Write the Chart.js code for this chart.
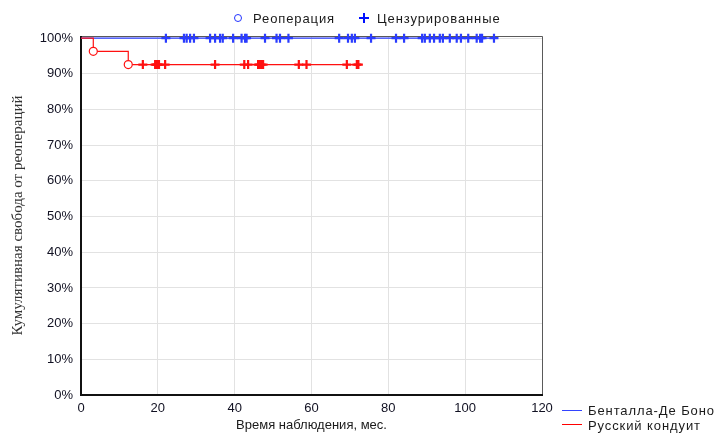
<!DOCTYPE html>
<html lang="ru">
<head>
<meta charset="utf-8">
<script src="https://cdn.jsdelivr.net/npm/chart.js@4/dist/chart.umd.min.js"></script>
<style>
  html, body { margin: 0; padding: 0; background: #fff; }
  #wrap { position: relative; width: 724px; height: 435px; }
  canvas { position: absolute; left: 0; top: 0; }
  .lg { position: absolute; font-family: "Liberation Sans", Arial, sans-serif; font-size: 13px;
        color: #1a1a1a; letter-spacing: 0.9px; white-space: nowrap; line-height: 15px; }
  .mk-circle { position: absolute; width: 6px; height: 6px; border: 1.3px solid #2233ff; border-radius: 50%; }
  .mk-plus { position: absolute; width: 10px; height: 10px; }
  .mk-plus::before, .mk-plus::after { content: ""; position: absolute; background: #0010ff; }
  .mk-plus::before { left: 4px; top: 0; width: 2px; height: 10px; }
  .mk-plus::after { left: 0; top: 4px; width: 10px; height: 2px; }
  .sw { position: absolute; width: 20px; height: 1px; }
</style>
</head>
<body>
<div id="wrap">
  <canvas id="km" width="724" height="435"></canvas>
  <!-- marker legend -->
  <span class="mk-circle" style="left:234px; top:14px;"></span>
  <span class="lg" style="left:253px; top:11px;">Реоперация</span>
  <span class="mk-plus" style="left:359px; top:13px;"></span>
  <span class="lg" style="left:377px; top:11px;">Цензурированные</span>
  <!-- group legend -->
  <span class="sw" style="left:562px; top:410px; background-color:#3344ff;"></span>
  <span class="lg" style="left:588px; top:403px;">Бенталла-Де Боно</span>
  <span class="sw" style="left:562px; top:424px; background-color:#ff0000;"></span>
  <span class="lg" style="left:588px; top:418px;">Русский кондуит</span>
</div>
<script>
// Axis ticks
const xTicks = [0, 20, 40, 60, 80, 100, 120];
const yTicks = [0, 10, 20, 30, 40, 50, 60, 70, 80, 90, 100];

// Бенталла-Де Боно: no reoperations, censored follow-up times (months)
const bentallEventTimes = [];
const bentallEventSurvival = [];
const bentallCensored = [22.1, 26.8, 27.5, 28.4, 29.4, 33.6, 34.9, 36.2, 36.9, 39.6, 41.8, 42.7, 43.1,
  47.9, 50.9, 51.8, 54.0, 67.2, 69.5, 70.5, 71.3, 75.5, 82.0, 84.1, 88.8, 89.5, 90.8, 91.9, 93.4,
  94.2, 96.0, 97.8, 98.9, 100.8, 103.0, 103.9, 104.4, 107.5];

// Русский кондуит: reoperation times and Kaplan–Meier estimate after each (%)
const conduitEventTimes = [3.2, 12.3];
const conduitEventSurvival = [96.3, 92.6];
const conduitCensored = [16.1, 19.3, 19.6, 19.9, 20.3, 21.9, 34.9, 42.5, 43.5, 46.1, 46.5, 46.9, 47.4,
  56.7, 58.7, 69.2, 71.8, 72.2];

const BLUE = '#2a3cff';
const RED = '#ff1010';

function survivalAt(times, surv, t) {
  let s = 100;
  for (let i = 0; i < times.length; i++) if (times[i] <= t) s = surv[i];
  return s;
}
function stepCurve(times, surv, censored) {
  const end = Math.max(...censored, ...times);
  const pts = [{ x: 0, y: 100 }];
  times.forEach((t, i) => pts.push({ x: t, y: surv[i] }));
  pts.push({ x: end, y: survivalAt(times, surv, end) });
  return pts;
}
function censorPoints(times, surv, censored) {
  return censored.map(t => ({ x: t, y: survivalAt(times, surv, t) }));
}

// plot frame: thin top/right edges, heavy left/bottom axes
const frame = {
  id: 'frame',
  beforeDatasetsDraw(chart) {
    const { ctx, chartArea: a } = chart;
    ctx.save();
    ctx.strokeStyle = '#5a5a5a';
    ctx.lineWidth = 1;
    ctx.beginPath();
    ctx.moveTo(a.left, a.top + 0.5); ctx.lineTo(a.right + 0.5, a.top + 0.5); ctx.lineTo(a.right + 0.5, a.bottom);
    ctx.stroke();
    ctx.strokeStyle = '#111';
    ctx.lineWidth = 2;
    ctx.beginPath();
    ctx.moveTo(a.left, a.top); ctx.lineTo(a.left, a.bottom); ctx.lineTo(a.right + 1, a.bottom);
    ctx.stroke();
    ctx.restore();
  }
};

new Chart(document.getElementById('km'), {
  type: 'line',
  data: {
    datasets: [
      { label: 'Бенталла-Де Боно', data: stepCurve(bentallEventTimes, bentallEventSurvival, bentallCensored),
        borderColor: BLUE, borderWidth: 1.2, stepped: true, pointRadius: 0, fill: false, order: 4, clip: false },
      { label: 'Бенталла-Де Боно цензур.', data: censorPoints(bentallEventTimes, bentallEventSurvival, bentallCensored),
        showLine: false, pointStyle: 'cross', pointRadius: 4.5, borderColor: BLUE, pointBorderWidth: 2.2, order: 3, clip: false },
      { label: 'Русский кондуит', data: stepCurve(conduitEventTimes, conduitEventSurvival, conduitCensored),
        borderColor: RED, borderWidth: 1.2, stepped: true, pointRadius: 0, fill: false, order: 2, clip: false },
      { label: 'Русский кондуит цензур.', data: censorPoints(conduitEventTimes, conduitEventSurvival, conduitCensored),
        showLine: false, pointStyle: 'cross', pointRadius: 4.5, borderColor: RED, pointBorderWidth: 2.2, order: 1, clip: false },
      { label: 'Реоперации', data: conduitEventTimes.map((t, i) => ({ x: t, y: conduitEventSurvival[i] })),
        showLine: false, pointStyle: 'circle', pointRadius: 4, borderColor: RED, backgroundColor: '#fff',
        pointBorderWidth: 1.2, order: 0, clip: false }
    ]
  },
  options: {
    responsive: false,
    animation: false,
    layout: { padding: { left: 0, right: 182, top: 36, bottom: 0 } },
    plugins: { legend: { display: false }, tooltip: { enabled: false } },
    scales: {
      x: {
        type: 'linear', min: 0, max: 120,
        afterBuildTicks: s => { s.ticks = xTicks.map(v => ({ value: v })); },
        afterFit: s => { s.height = 40; },
        grid: { color: '#e2e2e2', lineWidth: 1, drawTicks: false },
        border: { display: false },
        ticks: { padding: 6, color: '#111122', font: { family: 'Liberation Sans', size: 13 }, maxRotation: 0 },
        title: { display: true, text: 'Время наблюдения, мес.', color: '#1a1a1a',
                 font: { family: 'Liberation Sans', size: 13 }, padding: { top: 0, bottom: 2 } }
      },
      y: {
        type: 'linear', min: 0, max: 100.6,
        afterBuildTicks: s => { s.ticks = yTicks.map(v => ({ value: v })); },
        afterFit: s => { s.width = 81; },
        grid: { color: '#e2e2e2', lineWidth: 1, drawTicks: false },
        border: { display: false },
        ticks: { padding: 8, color: '#111122', font: { family: 'Liberation Sans', size: 13 },
                 callback: v => v + '%' },
        title: { display: true, text: 'Кумулятивная свобода от реопераций', color: '#333',
                 font: { family: 'Liberation Serif', size: 15 }, padding: { top: 9, bottom: 0 } }
      }
    }
  },
  plugins: [frame]
});
</script>
</body>
</html>
